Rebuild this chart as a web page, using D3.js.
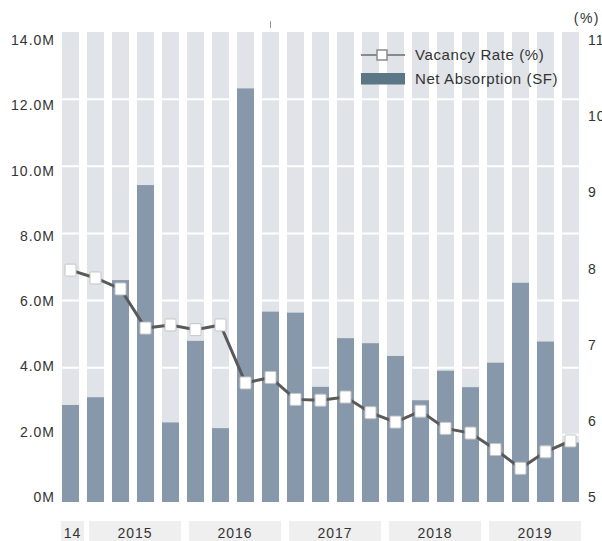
<!DOCTYPE html>
<html>
<head>
<meta charset="utf-8">
<script src="https://cdn.jsdelivr.net/npm/d3@7"></script>
<style>
  body { margin: 0; background: #fff; }
  text { font-family: "Liberation Sans", Arial, sans-serif; fill: #333; }
</style>
</head>
<body>
<div id="chart"></div>
<script>
// quarters from 2014 Q4 to 2019 Q4
const quarters = ['2014Q4',
  '2015Q1', '2015Q2', '2015Q3', '2015Q4',
  '2016Q1', '2016Q2', '2016Q3', '2016Q4',
  '2017Q1', '2017Q2', '2017Q3', '2017Q4',
  '2018Q1', '2018Q2', '2018Q3', '2018Q4',
  '2019Q1', '2019Q2', '2019Q3', '2019Q4']
// net absorption, millions of SF
const absorption = [2.89, 3.12, 6.61, 9.44, 2.37, 4.80, 2.20, 12.32, 5.67, 5.64, 3.43,
  4.88, 4.73, 4.35, 3.03, 3.91, 3.42, 4.15, 6.53, 4.78, 1.77]
// vacancy rate, %
const vacancy = [7.96, 7.86, 7.72, 7.22, 7.26, 7.20, 7.26, 6.52, 6.59, 6.31, 6.30,
  6.34, 6.14, 6.02, 6.16, 5.94, 5.88, 5.67, 5.43, 5.64, 5.78]
const years = [
  {label: '14', from: '2014Q4', to: '2014Q4'},
  {label: '2015', from: '2015Q1', to: '2015Q4'},
  {label: '2016', from: '2016Q1', to: '2016Q4'},
  {label: '2017', from: '2017Q1', to: '2017Q4'},
  {label: '2018', from: '2018Q1', to: '2018Q4'},
  {label: '2019', from: '2019Q1', to: '2019Q4'}
]
const leftTicks = [0, 2, 4, 6, 8, 10, 12, 14]
const rightTicks = [5, 6, 7, 8, 9, 10, 11]

const width = 602, height = 541
const svg = d3.select('#chart').append('svg')
  .attr('width', width).attr('height', height)

const x = d3.scaleBand().domain(quarters).range([58, 583])
  .paddingInner(0.32).paddingOuter(0.16)
const y = d3.scaleLinear().domain([0, 14]).range([502, 32])
const yVac = d3.scaleLinear().domain([5, 11]).range([502, 32])
// tick labels sit a little off the gridlines in the original
const yLab = d3.scaleLinear().domain([0, 14]).range([497, 40])
const yVacLab = d3.scaleLinear().domain([5, 11]).range([497, 40])

// background columns
svg.append('g').selectAll('rect')
  .data(quarters)
  .enter().append('rect')
  .attr('x', d => x(d))
  .attr('y', y(14))
  .attr('width', x.bandwidth())
  .attr('height', y(0) - y(14))
  .style('fill', '#e0e4e9')

// white gridlines across the columns
svg.append('g').selectAll('line')
  .data(leftTicks.slice(1, -1))
  .enter().append('line')
  .attr('x1', x.range()[0]).attr('x2', x.range()[1])
  .attr('y1', d => y(d)).attr('y2', d => y(d))
  .style('stroke', '#fff').style('stroke-width', 2)

// bars
const bars = quarters.map((q, i) => ({q: q, v: absorption[i]}))
svg.append('g').selectAll('rect')
  .data(bars)
  .enter().append('rect')
  .attr('x', d => x(d.q))
  .attr('y', d => y(d.v))
  .attr('width', x.bandwidth())
  .attr('height', d => y(0) - y(d.v))
  .style('fill', '#8698aa')

// vacancy line
const pts = quarters.map((q, i) => ({q: q, v: vacancy[i]}))
const line = d3.line()
  .x(d => x(d.q) + x.bandwidth() / 2)
  .y(d => yVac(d.v))
svg.append('path')
  .datum(pts)
  .attr('d', line)
  .style('fill', 'none')
  .style('stroke', '#5a5a5a')
  .style('stroke-width', 3)

svg.append('g').selectAll('rect')
  .data(pts)
  .enter().append('rect')
  .attr('x', d => x(d.q) + x.bandwidth() / 2 - 5.5)
  .attr('y', d => yVac(d.v) - 6)
  .attr('width', 11).attr('height', 12)
  .attr('rx', 1)
  .style('fill', '#fff')
  .style('stroke', '#c4c4c4')
  .style('stroke-width', 1)

// left axis labels
svg.append('g').selectAll('text')
  .data(leftTicks)
  .enter().append('text')
  .attr('x', 55)
  .attr('y', d => yLab(d))
  .attr('dy', '0.36em')
  .attr('text-anchor', 'end')
  .style('font-size', '14px')
  .style('letter-spacing', '1px')
  .text(d => d === 0 ? '0M' : d.toFixed(1) + 'M')

// right axis labels (clipped by the edge, as in the original)
svg.append('g').selectAll('text')
  .data(rightTicks)
  .enter().append('text')
  .attr('x', 588)
  .attr('y', d => yVacLab(d))
  .attr('dy', '0.36em')
  .style('font-size', '14px')
  .style('letter-spacing', '1px')
  .text(d => d)
svg.append('text')
  .attr('x', 600).attr('y', 18).attr('dy', '0.36em')
  .attr('text-anchor', 'end')
  .style('font-size', '14px')
  .style('letter-spacing', '1.5px')
  .text('(%)')

// small tick at the top
svg.append('line')
  .attr('x1', 270.5).attr('x2', 270.5).attr('y1', 21).attr('y2', 28)
  .style('stroke', '#999').style('stroke-width', 1)

// year boxes along the bottom
const yearG = svg.append('g').selectAll('g')
  .data(years)
  .enter().append('g')
  .attr('transform', d => {
    const x0 = x(d.from), x1 = x(d.to) + x.bandwidth()
    return 'translate(' + ((x0 + x1) / 2 + 2) + ',0)'
  })
yearG.append('rect')
  .attr('x', d => -(quarters.indexOf(d.to) - quarters.indexOf(d.from) + 1) * 23 / 2)
  .attr('y', 521)
  .attr('width', d => (quarters.indexOf(d.to) - quarters.indexOf(d.from) + 1) * 23)
  .attr('height', 25)
  .style('fill', '#efefef')
yearG.append('text')
  .attr('y', 533).attr('dy', '0.36em')
  .attr('text-anchor', 'middle')
  .style('font-size', '14px')
  .style('letter-spacing', '1px')
  .text(d => d.label)

// legend
const legend = svg.append('g')
legend.append('line')
  .attr('x1', 361).attr('x2', 405).attr('y1', 55).attr('y2', 55)
  .style('stroke', '#8a8a8a').style('stroke-width', 2)
legend.append('rect')
  .attr('x', 377).attr('y', 50).attr('width', 10).attr('height', 10)
  .style('fill', '#fff').style('stroke', '#8a8a8a').style('stroke-width', 1.5)
legend.append('text')
  .attr('x', 415).attr('y', 55).attr('dy', '0.36em')
  .style('font-size', '15px')
  .style('letter-spacing', '0.6px')
  .text('Vacancy Rate (%)')
legend.append('rect')
  .attr('x', 361).attr('y', 73).attr('width', 44).attr('height', 11.5)
  .style('fill', '#5b7684')
legend.append('text')
  .attr('x', 415).attr('y', 78.5).attr('dy', '0.36em')
  .style('font-size', '15px')
  .style('letter-spacing', '0.6px')
  .text('Net Absorption (SF)')
</script>
</body>
</html>
